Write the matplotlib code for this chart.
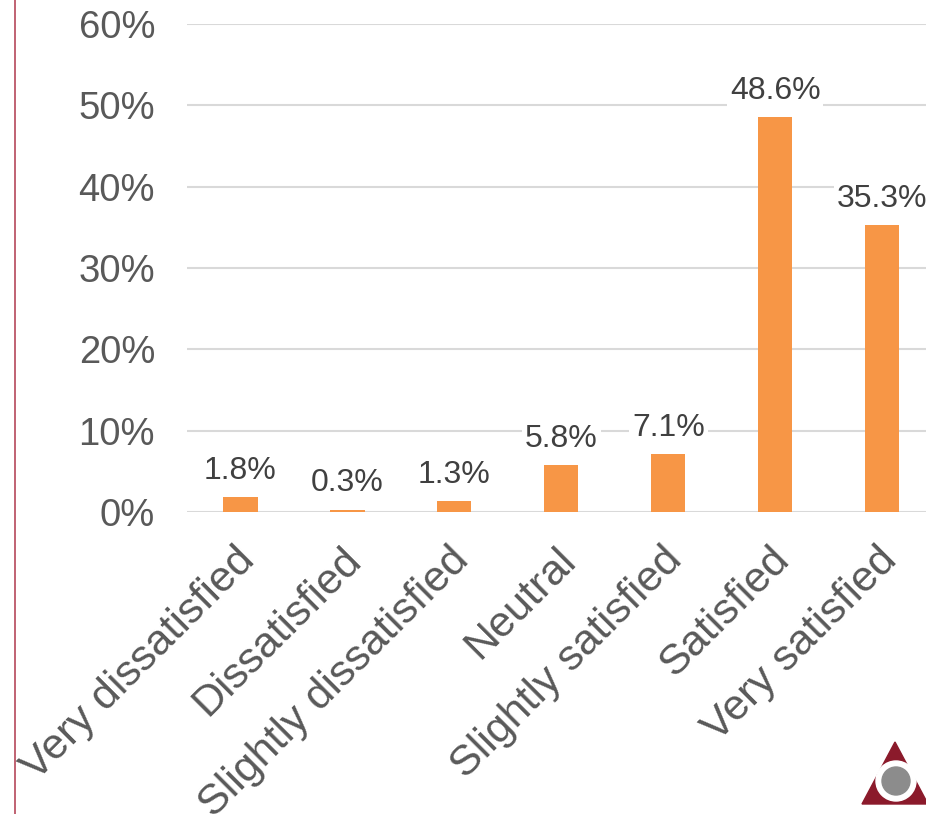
import matplotlib.pyplot as plt
from matplotlib.patches import Polygon, Circle
from matplotlib.lines import Line2D
from matplotlib.transforms import ScaledTranslation

plt.rcParams['font.family'] = ['Liberation Sans', 'DejaVu Sans']

categories = ['Very dissatisfied', 'Dissatisfied', 'Slightly dissatisfied', 'Neutral',
              'Slightly satisfied', 'Satisfied', 'Very satisfied']
values = [1.8, 0.3, 1.3, 5.8, 7.1, 48.6, 35.3]
yticks = [0, 10, 20, 30, 40, 50, 60]

W, H = 926, 814
fig = plt.figure(figsize=(W / 100, H / 100), dpi=100)

# plot area in pixel terms
left, right, top, bottom = 187, 926, 24, 512
ax = fig.add_axes([left / W, 1 - bottom / H, (right - left) / W, (bottom - top) / H])

x = range(len(categories))
ax.bar(x, values, width=0.32, color='#f79646', zorder=2)
ax.set_ylim(0, 60)
ax.set_xlim(-0.5, 6.41)

ax.set_yticks(yticks)
ax.set_yticklabels([f'{v}%' for v in yticks], fontsize=27.5, color='#595959')
ax.tick_params(axis='y', length=0, pad=23)
ax.tick_params(axis='x', length=0, pad=20)
ax.set_xticks(list(x))
ax.set_xticklabels(categories, rotation=45, ha='right', va='top',
                   rotation_mode='anchor', fontsize=31, color='#595959')
for lbl in ax.get_xticklabels():
    lbl.set_transform(lbl.get_transform() + ScaledTranslation(-0.06, 0, fig.dpi_scale_trans))

ax.grid(axis='y', color='#d9d9d9', linewidth=1.5, zorder=0)
for s in ax.spines.values():
    s.set_visible(False)

for i, v in enumerate(values):
    ax.annotate(f'{v}%', (i, v), xytext=(0, 8), textcoords='offset points',
                ha='center', va='bottom', fontsize=23, color='#404040',
                bbox=dict(facecolor='white', edgecolor='none', pad=2), zorder=3)

# left border line
fig.add_artist(Line2D([15 / W, 15 / W], [0, 1], color='#b5485a', linewidth=1.2))

# logo bottom right
lax = fig.add_axes([856 / W, 1 - 810 / H, 70 / W, 72 / H])
lax.set_xlim(0, 70)
lax.set_ylim(0, 72)
lax.axis('off')
lax.add_patch(Polygon([[6, 6], [72, 6], [39, 68]], closed=True, color='#8b1a2b'))
lax.add_patch(Circle((40, 29), 20, color='white'))
lax.add_patch(Circle((40, 29), 14, color='#8c8c8c'))

fig.savefig('out.png', dpi=100)
